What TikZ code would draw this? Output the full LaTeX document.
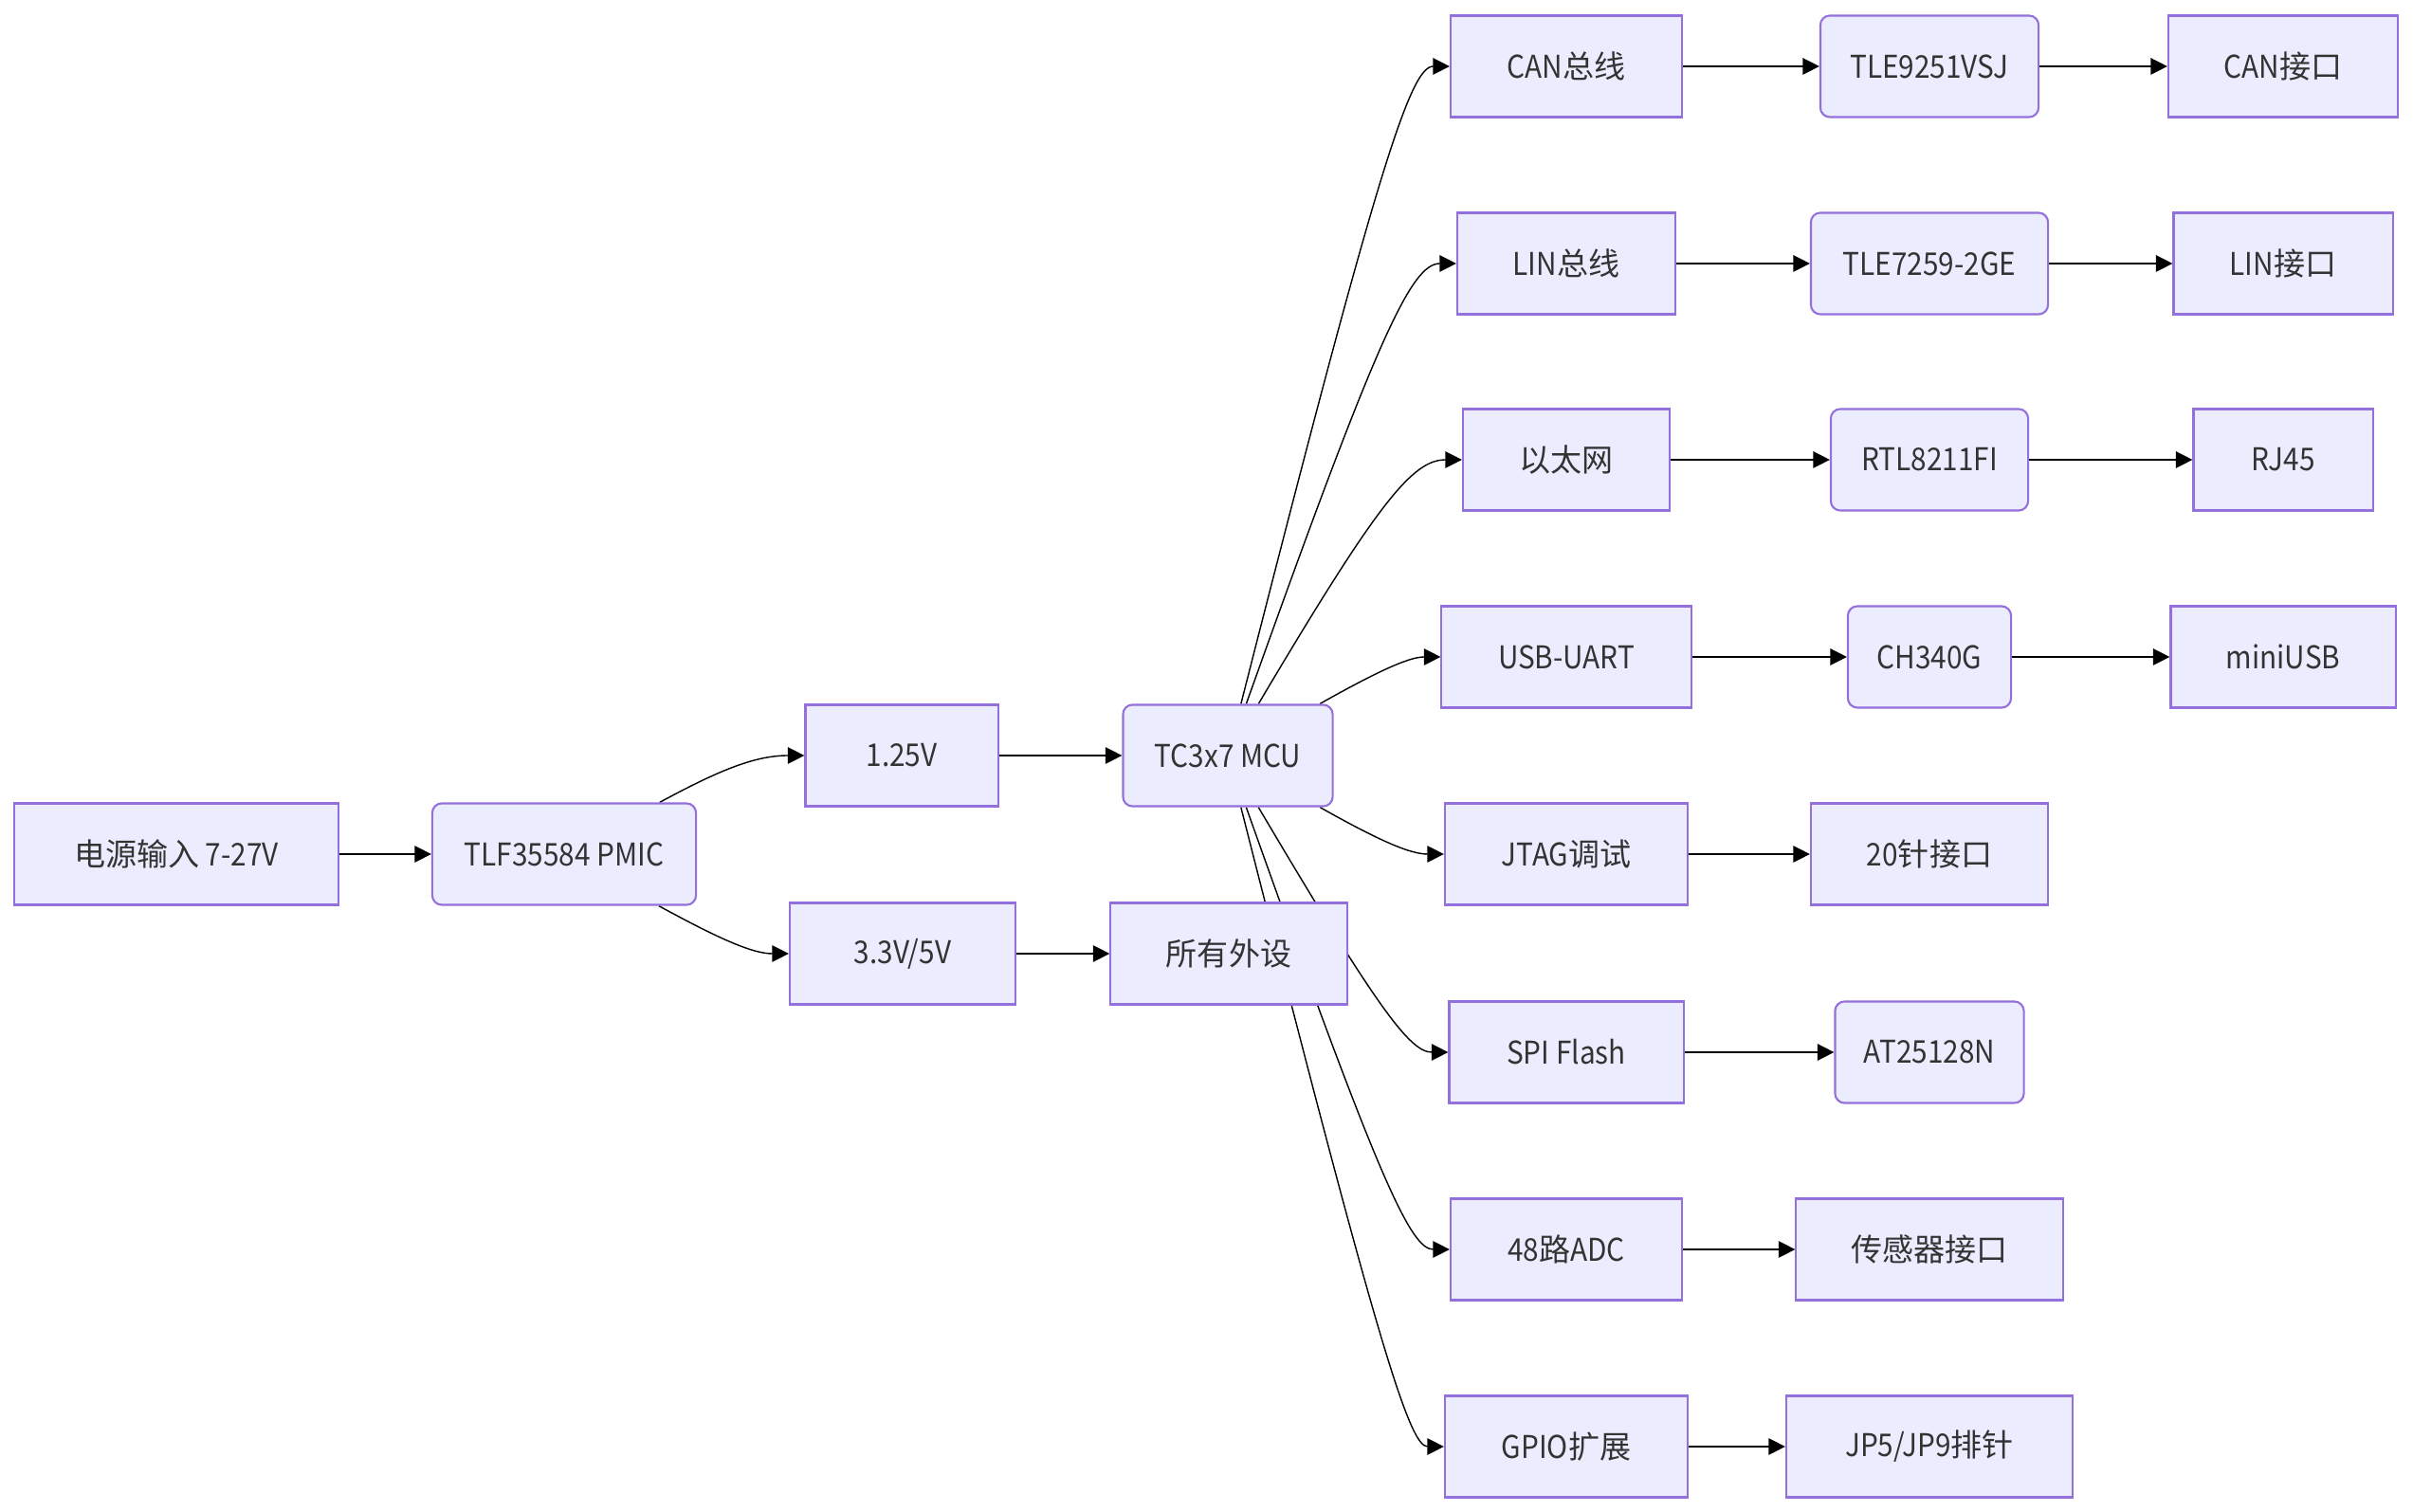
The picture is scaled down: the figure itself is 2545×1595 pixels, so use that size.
\documentclass[tikz,border=0pt]{standalone}
\usepackage{fontspec}
\setmainfont{Noto Sans CJK SC}[FakeStretch=0.9]
\newfontfamily\zhfont{Noto Sans CJK SC}
\newcommand{\zh}[1]{{\zhfont #1}}
\usepackage{tikz}
\usetikzlibrary{arrows.meta,calc,backgrounds}
\definecolor{boxfill}{HTML}{ECECFF}
\definecolor{boxline}{HTML}{9370DB}
\definecolor{ink}{HTML}{333333}

\begin{document}
\begin{tikzpicture}[x=0.01cm,y=-0.01cm,color=ink,line width=0.6pt,
  font=\fontsize{9.4}{11}\selectfont,
  >={Triangle[length=5pt,width=5pt]},
  blk/.style={draw=boxline,fill=boxfill,inner sep=0pt,minimum height=1.07cm},
  chip/.style={blk,rounded corners=0.1cm},
  fan/.style={to path={.. controls ($(\tikztostart)!0.85!(\tikztotarget -| #1)$)
    and ($(\tikztotarget)!0.85!(\tikztotarget -| #1)$) .. (\tikztotarget)}}]
\useasboundingbox (0,0) rectangle (2545,1595);
\coordinate (bendP) at (787,0); \coordinate (bendM) at (1480,0);

% power path
\node[blk,minimum width=3.41cm] (pwr) at (186,901) {\zh{电源输入} 7-27V};
\node[chip,minimum width=2.78cm] (tlf) at (595,901) {TLF35584 PMIC};
\node[blk,minimum width=2.03cm] (v125) at (951,797) {1.25V};
\node[blk,minimum width=2.38cm] (v33) at (952,1006) {3.3V/5V};
\node[chip,minimum width=2.21cm] (mcu) at (1295,797) {TC3x7 MCU};
\node[blk,minimum width=2.49cm] (periph) at (1296,1006) {\zh{所有外设}};

% interfaces
\node[blk,minimum width=2.44cm] (can) at (1652,70) {CAN\zh{总线}};
\node[chip,minimum width=2.30cm] (tle9251) at (2035,70) {TLE9251VSJ};
\node[blk,minimum width=2.42cm] (canport) at (2408,70) {CAN\zh{接口}};
\node[blk,minimum width=2.30cm] (lin) at (1652,278) {LIN\zh{总线}};
\node[chip,minimum width=2.50cm] (tle7259) at (2035,278) {TLE7259-2GE};
\node[blk,minimum width=2.31cm] (linport) at (2408,278) {LIN\zh{接口}};
\node[blk,minimum width=2.18cm] (eth) at (1652,485) {\zh{以太网}};
\node[chip,minimum width=2.08cm] (rtl) at (2035,485) {RTL8211FI};
\node[blk,minimum width=1.89cm] (rj45) at (2408,485) {RJ45};
\node[blk,minimum width=2.63cm] (usb) at (1652,693) {USB-UART};
\node[chip,minimum width=1.72cm] (ch340) at (2035,693) {CH340G};
\node[blk,minimum width=2.37cm] (miniusb) at (2408,693) {miniUSB};
\node[blk,minimum width=2.56cm] (jtag) at (1652,901) {JTAG\zh{调试}};
\node[blk,minimum width=2.50cm] (pin20) at (2035,901) {20\zh{针接口}};
\node[blk,minimum width=2.47cm] (spi) at (1652,1110) {SPI Flash};
\node[chip,minimum width=1.99cm] (at25) at (2035,1110) {AT25128N};
\node[blk,minimum width=2.44cm] (adc) at (1652,1318) {48\zh{路}ADC};
\node[blk,minimum width=2.81cm] (sensor) at (2035,1318) {\zh{传感器接口}};
\node[blk,minimum width=2.56cm] (gpio) at (1652,1526) {GPIO\zh{扩展}};
\node[blk,minimum width=3.02cm] (jp) at (2035,1526) {JP5/JP9\zh{排针}};

\begin{scope}[on background layer]
\draw[->] (pwr) -- (tlf);
\draw[->] (tlf) to[fan=bendP] (v125.west);
\draw[->] (tlf) to[fan=bendP] (v33.west);
\draw[->] (v125) -- (mcu);
\draw[->] (v33) -- (periph);
\draw[->] (mcu) to[fan=bendM] (can.west);
\draw[->] (mcu) to[fan=bendM] (lin.west);
\draw[->] (mcu) to[fan=bendM] (eth.west);
\draw[->] (mcu) to[fan=bendM] (usb.west);
\draw[->] (mcu) to[fan=bendM] (jtag.west);
\draw[->] (mcu) to[fan=bendM] (spi.west);
\draw[->] (mcu) to[fan=bendM] (adc.west);
\draw[->] (mcu) to[fan=bendM] (gpio.west);
\draw[->] (can) -- (tle9251); \draw[->] (tle9251) -- (canport);
\draw[->] (lin) -- (tle7259); \draw[->] (tle7259) -- (linport);
\draw[->] (eth) -- (rtl);     \draw[->] (rtl) -- (rj45);
\draw[->] (usb) -- (ch340);   \draw[->] (ch340) -- (miniusb);
\draw[->] (jtag) -- (pin20);
\draw[->] (spi) -- (at25);
\draw[->] (adc) -- (sensor);
\draw[->] (gpio) -- (jp);
\end{scope}
\end{tikzpicture}
\end{document}
